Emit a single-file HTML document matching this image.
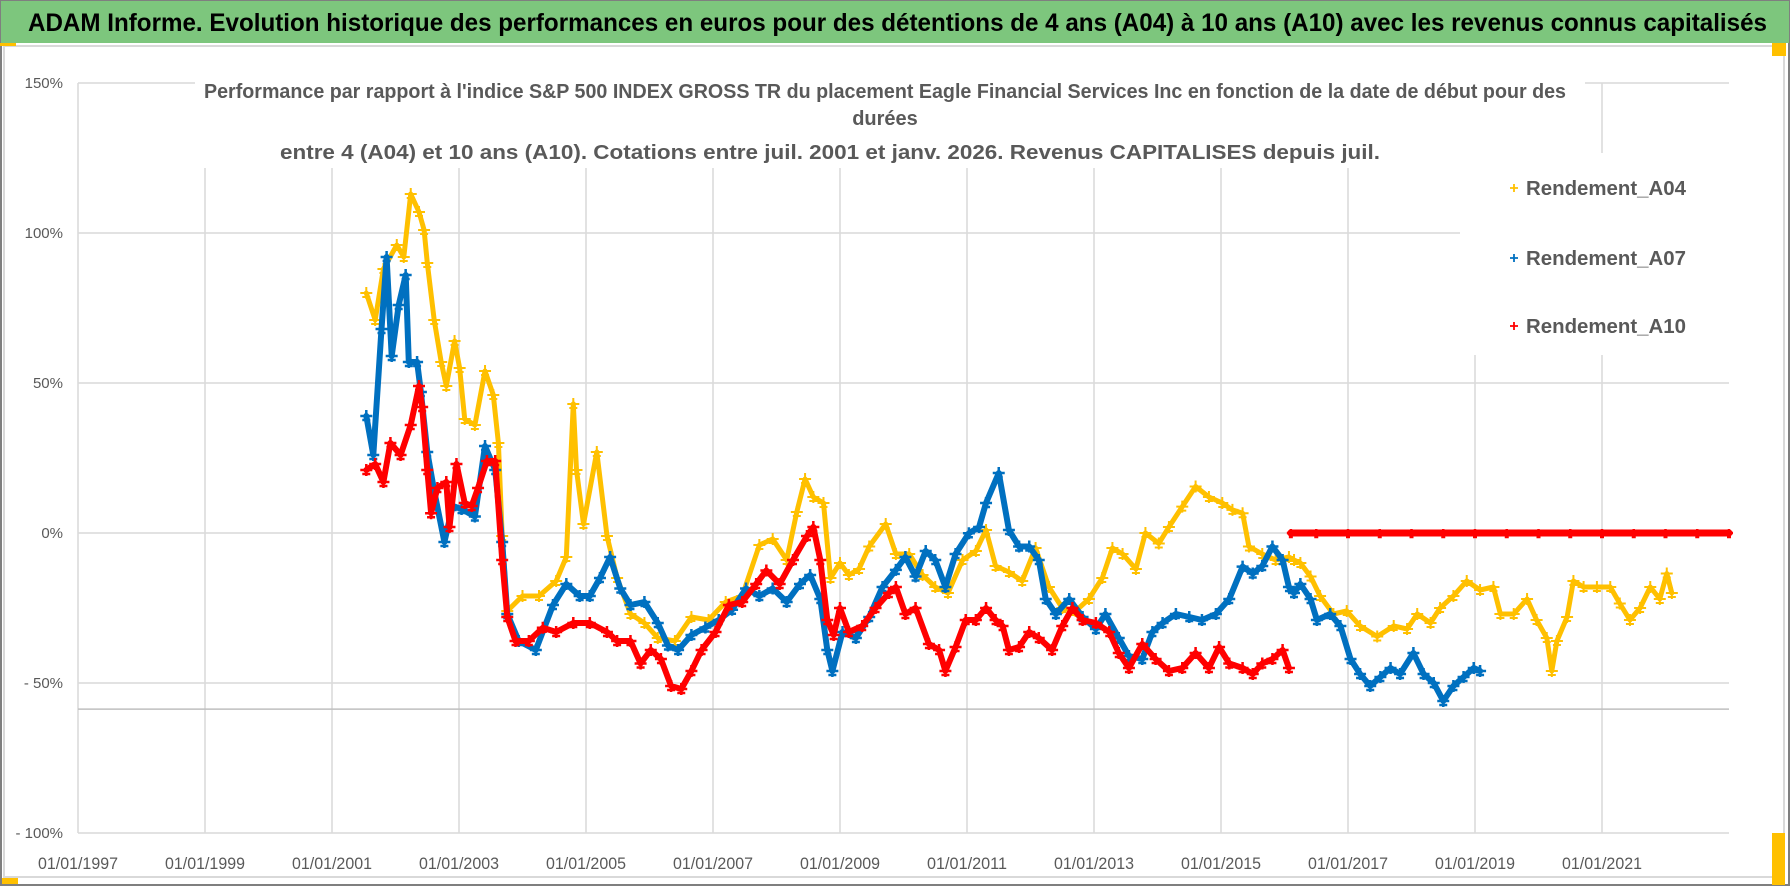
<!DOCTYPE html>
<html><head><meta charset="utf-8"><style>
html,body{margin:0;padding:0;background:#fff;}
svg{display:block;font-family:"Liberation Sans",sans-serif;}
</style></head><body>
<svg id="chart" width="1790" height="886" viewBox="0 0 1790 886" xmlns="http://www.w3.org/2000/svg">
<rect x="0" y="0" width="1790" height="886" fill="#fff"/>
<rect x="1" y="1" width="1788" height="884" fill="none" stroke="#7f7f7f" stroke-width="2"/>
<rect x="1" y="1" width="1788" height="42" fill="#7dc67d"/>
<text x="28" y="31" font-size="25" font-weight="bold" fill="#000" textLength="1739" lengthAdjust="spacingAndGlyphs">ADAM Informe. Evolution historique des performances en euros pour des détentions de 4 ans (A04) à 10 ans (A10) avec les revenus connus capitalisés</text>
<rect x="4" y="46" width="1780" height="831" fill="none" stroke="#d9d9d9" stroke-width="2"/>
<rect x="0" y="43" width="16" height="3" fill="#ffc000"/>
<rect x="1772" y="43" width="14" height="13" fill="#ffc000"/>
<rect x="1772" y="833" width="13" height="52" fill="#ffc000"/>
<rect x="2" y="878" width="16" height="6" fill="#ffc000"/>
<g id="grid"></g>
<g id="series"></g>
<g id="axes"></g>
<rect x="195" y="58" width="1390" height="110" fill="#fff"/>
<text x="885" y="98" font-size="20" font-weight="bold" fill="#595959" text-anchor="middle" textLength="1362" lengthAdjust="spacingAndGlyphs">Performance par rapport à l'indice S&amp;P 500 INDEX GROSS TR  du placement Eagle Financial Services Inc en fonction de la date de début pour des</text>
<text x="885" y="125" font-size="20" font-weight="bold" fill="#595959" text-anchor="middle">durées</text>
<text x="830" y="159" font-size="20" font-weight="bold" fill="#595959" text-anchor="middle" textLength="1100" lengthAdjust="spacingAndGlyphs">entre 4 (A04) et 10 ans (A10).  Cotations entre juil. 2001 et janv. 2026. Revenus CAPITALISES depuis juil.</text>
<rect x="1460" y="153" width="270" height="202" fill="#fff"/>
<g id="legend"></g>
</svg>
<script>
const yTicks = [150, 100, 50, 0, -50, -100];
const yTickLabels = ["150%", "100%", "50%", "0%", "- 50%", "- 100%"];
const xTicks = [1997, 1999, 2001, 2003, 2005, 2007, 2009, 2011, 2013, 2015, 2017, 2019, 2021];
const xTickLabels = ["01/01/1997","01/01/1999","01/01/2001","01/01/2003","01/01/2005","01/01/2007","01/01/2009","01/01/2011","01/01/2013","01/01/2015","01/01/2017","01/01/2019","01/01/2021"];
const axisCross = -58.7;
const seriesNames = ["Rendement_A04", "Rendement_A07", "Rendement_A10"];

const a04Years = [2001.54,2001.68,2001.81,2002.02,2002.13,2002.24,2002.37,2002.45,2002.5,2002.61,2002.72,2002.8,2002.93,2003.01,2003.09,2003.25,2003.41,2003.54,2003.62,2003.68,2003.76,2004.0,2004.26,2004.53,2004.69,2004.8,2004.85,2004.96,2005.17,2005.33,2005.49,2005.7,2005.92,2006.13,2006.4,2006.66,2006.93,2007.2,2007.46,2007.73,2007.94,2008.16,2008.32,2008.45,2008.58,2008.74,2008.85,2009.0,2009.14,2009.3,2009.46,2009.72,2009.88,2010.09,2010.3,2010.5,2010.7,2010.93,2011.14,2011.3,2011.45,2011.66,2011.87,2012.08,2012.29,2012.5,2012.71,2012.92,2013.13,2013.29,2013.45,2013.66,2013.81,2014.02,2014.18,2014.39,2014.6,2014.81,2015.02,2015.18,2015.34,2015.44,2015.65,2015.86,2016.07,2016.15,2016.25,2016.41,2016.56,2016.77,2016.98,2017.19,2017.46,2017.72,2017.93,2018.09,2018.3,2018.45,2018.66,2018.87,2019.08,2019.29,2019.4,2019.61,2019.82,2019.97,2020.13,2020.21,2020.29,2020.45,2020.55,2020.71,2020.92,2021.13,2021.28,2021.44,2021.6,2021.76,2021.91,2022.02,2022.1];
const a04Values = [80,71,88,96,92,113,107,101,90,71,57,49,64,55,38,36,54,46,30,-1,-26,-21,-21,-16,-8,43,21,3,27,-1,-15,-27,-30,-35,-36,-28,-29,-23,-21,-4,-2,-9,7,18,12,10,-15,-10,-14,-12,-4.5,3,-7,-7,-14,-18,-20,-9,-6,1,-11,-13,-16,-5,-18,-25,-26,-22,-15,-5,-7,-12,0,-3.5,2,8.8,15.5,12,10,7.7,6.6,-4.5,-7,-9,-8,-9,-10,-14.5,-21,-27,-26,-31,-34.5,-31,-32,-27,-30,-25,-21,-16,-19,-18,-27,-27,-22,-29,-35,-46,-36,-28,-16,-18,-18,-18,-23.5,-29,-25,-18,-22,-13.5,-20];

const a07Years = [2001.54,2001.65,2001.78,2001.86,2001.94,2002.05,2002.16,2002.21,2002.34,2002.4,2002.5,2002.61,2002.77,2002.9,2003.04,2003.25,2003.41,2003.57,2003.68,2003.76,2003.94,2004.21,2004.48,2004.69,2004.9,2005.06,2005.22,2005.38,2005.54,2005.7,2005.92,2006.13,2006.29,2006.45,2006.66,2006.88,2007.09,2007.3,2007.52,2007.73,2007.94,2008.16,2008.37,2008.53,2008.69,2008.8,2008.88,2009.04,2009.25,2009.46,2009.67,2009.88,2010.03,2010.19,2010.35,2010.5,2010.66,2010.82,2011.03,2011.19,2011.3,2011.5,2011.66,2011.82,2011.98,2012.13,2012.24,2012.4,2012.61,2012.82,2013.03,2013.18,2013.39,2013.55,2013.76,2013.92,2014.08,2014.29,2014.5,2014.7,2014.92,2015.13,2015.34,2015.5,2015.65,2015.81,2015.97,2016.07,2016.15,2016.25,2016.41,2016.51,2016.72,2016.88,2017.04,2017.19,2017.35,2017.51,2017.67,2017.82,2018.03,2018.19,2018.35,2018.5,2018.66,2018.82,2018.98,2019.08];
const a07Values = [39,26,68,92,59,76,86,57,57,47,27,14,-3,9,8,5.5,29,21,-3,-27,-36,-39,-24,-17,-21,-21,-15,-8,-18.5,-24,-23,-30,-37.5,-39,-34,-31.5,-29,-25.6,-18.5,-21,-18.5,-23,-17,-14,-22,-39,-46,-33,-35,-28,-18,-12.3,-8,-14.5,-6,-9,-18,-7,-0.1,2,10,20,1,-4.5,-4.5,-9,-22,-27,-22,-28,-32,-27,-35,-41,-42,-33,-30,-27,-28,-29,-27,-22,-11.2,-13.5,-11,-4.5,-9,-18,-20,-17,-22,-29,-27,-31,-42,-47,-51,-48,-45,-47,-40,-47,-50,-56,-51,-48,-45,-46];

const a10Years = [2001.54,2001.68,2001.81,2001.92,2002.08,2002.24,2002.37,2002.42,2002.5,2002.56,2002.66,2002.8,2002.85,2002.96,2003.09,2003.2,2003.3,2003.44,2003.57,2003.68,2003.76,2003.89,2004.1,2004.32,2004.53,2004.8,2005.06,2005.33,2005.49,2005.7,2005.86,2006.02,2006.18,2006.34,2006.5,2006.66,2006.82,2007.04,2007.25,2007.46,2007.68,2007.84,2008.05,2008.26,2008.48,2008.58,2008.69,2008.8,2008.9,2009.0,2009.14,2009.35,2009.56,2009.77,2009.88,2010.03,2010.19,2010.4,2010.56,2010.66,2010.82,2010.98,2011.14,2011.3,2011.45,2011.56,2011.66,2011.82,2011.98,2012.13,2012.34,2012.5,2012.66,2012.82,2013.03,2013.24,2013.39,2013.55,2013.76,2013.97,2014.18,2014.39,2014.6,2014.81,2014.97,2015.13,2015.34,2015.5,2015.65,2015.81,2015.97,2016.07];
const a10Values = [21,23,17,30,26,36,49,42,21,6.6,15,17,2,23,10,9,15,24,24,-9,-28,-36,-36,-31.6,-33,-30,-30,-33,-36,-36,-43.5,-39,-42,-51,-52,-46,-39,-33,-24,-23,-17,-12.5,-17,-9,-1,2,-9,-29,-34,-25,-33,-31,-25,-20,-18,-27,-25,-37,-39,-46,-38,-29,-29,-25,-29,-31,-39,-38,-33,-35,-39,-31,-25,-29,-30,-33,-40,-45,-37,-42,-46,-45,-40,-45,-38,-43.5,-45,-47,-43.5,-42,-39,-45];
const a10FlatYears = [2016.1,2016.5,2017.0,2017.5,2018.0,2018.5,2019.0,2019.5,2020.0,2020.5,2021.0,2021.5,2022.0,2022.5,2023.0];
const a10FlatValues = [0,0,0,0,0,0,0,0,0,0,0,0,0,0,0];

const X0 = 78, X1 = 1729, Y0 = 833, Y1 = 83;
const xMin = 1997, xMax = 2023, yMin = -100, yMax = 150;
function xs(v){ return X0 + (v - xMin) / (xMax - xMin) * (X1 - X0); }
function ys(v){ return Y0 - (v - yMin) / (yMax - yMin) * (Y0 - Y1); }
const NS = "http://www.w3.org/2000/svg";
function mk(tag, attrs, parent){ const e = document.createElementNS(NS, tag); for (const k in attrs) e.setAttribute(k, attrs[k]); parent.appendChild(e); return e; }

const grid = document.getElementById('grid');
yTicks.forEach((t, i) => {
  const l = mk('line', {x1: X0, x2: X1, y1: ys(t), y2: ys(t), stroke: '#d9d9d9', 'stroke-width': 1.5}, grid);
  
  
});
xTicks.forEach((t, i) => {
  const l = mk('line', {x1: xs(t), x2: xs(t), y1: Y1, y2: Y0, stroke: '#d9d9d9', 'stroke-width': 1.5}, grid);
  
  
});
const ax = mk('line', {x1: X0, x2: X1, y1: ys(axisCross), y2: ys(axisCross), stroke: '#bfbfbf', 'stroke-width': 1.5}, grid);



const axes = document.getElementById('axes');
yTicks.forEach((t, i) => {
  const tx = mk('text', {x: 63, y: ys(t) + 5, 'font-size': 15, fill: '#595959', 'text-anchor': 'end'}, axes);
  tx.textContent = yTickLabels[i];
  
  
});
xTicks.forEach((t, i) => {
  const tx = mk('text', {x: xs(t), y: 869, 'font-size': 17, fill: '#595959', 'text-anchor': 'middle', textLength: 80, lengthAdjust: 'spacingAndGlyphs'}, axes);
  tx.textContent = xTickLabels[i];
  
  
});

const colors = ['#ffc000', '#0070c0', '#ff0000'];
const series = document.getElementById('series');
function drawSeries(years, values, color, name, lw, mw, ms){
  const g = mk('g', {}, series);
  
  
  const pts = years.map((y, i) => xs(y).toFixed(1) + ',' + ys(values[i]).toFixed(1)).join(' ');
  const pl = mk('polyline', {points: pts, fill: 'none', stroke: color, 'stroke-width': lw, 'stroke-linejoin': 'round', 'stroke-linecap': 'round'}, g);
  
  
  years.forEach((y, i) => {
    const cx = xs(y), cy = ys(values[i]);
    const p = mk('path', {d: `M${cx-ms},${cy}h${2*ms}M${cx},${cy-ms}v${2*ms}M${cx-ms+2},${cy+4}h${2*ms-4}`, stroke: color, 'stroke-width': mw}, g);
    
    
  });
}
drawSeries(a04Years, a04Values, colors[0], 'series-a04', 5, 2, 6);
drawSeries(a07Years, a07Values, colors[1], 'series-a07', 6, 2.5, 6);
drawSeries(a10Years, a10Values, colors[2], 'series-a10', 6, 2.5, 6);
drawSeries(a10FlatYears, a10FlatValues, colors[2], 'series-a10-flat', 7, 2.5, 4);

const legend = document.getElementById('legend');
const legY = [188, 258, 326];
seriesNames.forEach((n, i) => {
  const g = mk('g', {}, legend);
  
  
  const y = legY[i];
  const m = mk('path', {d: `M1510,${y}h8M1514,${y-4}v8`, stroke: colors[i], 'stroke-width': 1.8}, g);
  
  
  const t = mk('text', {x: 1526, y: y + 7, 'font-size': 20, 'font-weight': 'bold', fill: '#595959', textLength: 160, lengthAdjust: 'spacingAndGlyphs'}, g);
  t.textContent = n;
  
  
});
</script>
</body></html>
